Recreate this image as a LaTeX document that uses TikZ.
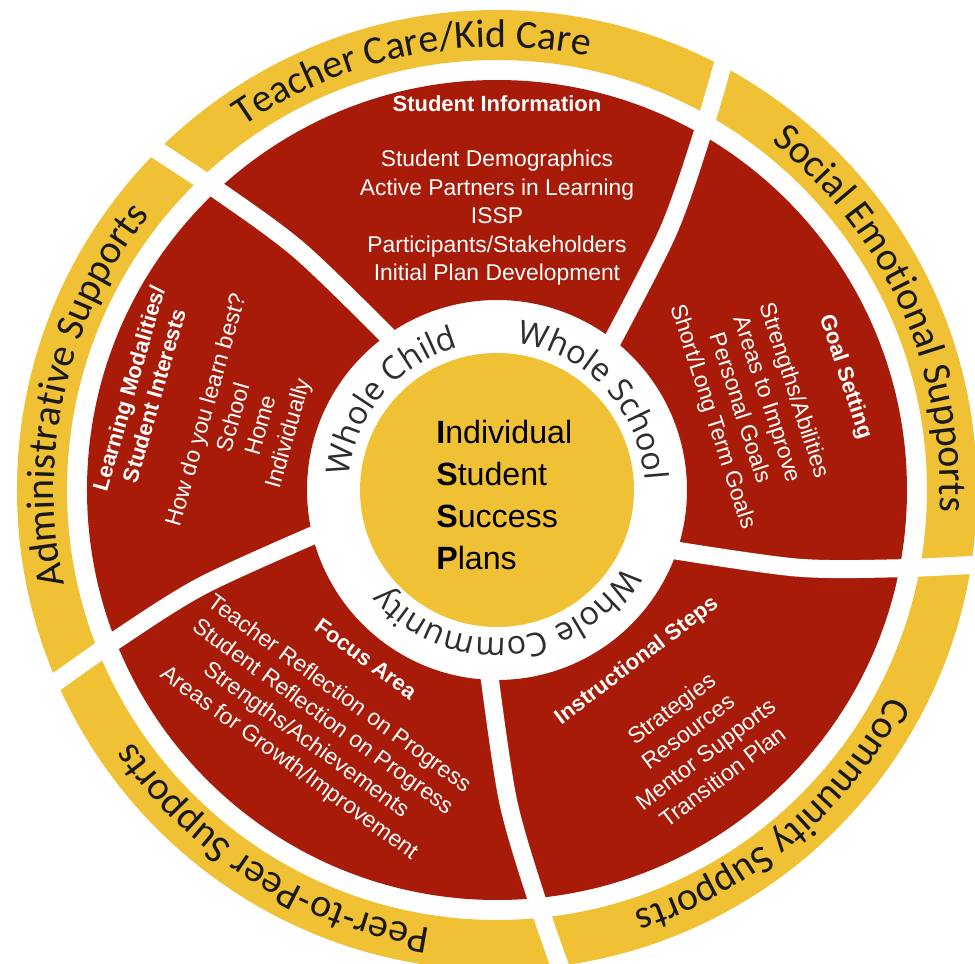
\documentclass[tikz,border=0pt]{standalone}
\usepackage{fontspec}
\setmainfont{Liberation Sans}
\newfontfamily\ringfont{Carlito}
\newfontfamily\wholefont{Open Sans}
\usetikzlibrary{decorations.text}

\definecolor{wheelred}{RGB}{167,27,8}
\definecolor{wheelyellow}{RGB}{240,193,52}
\definecolor{ringink}{RGB}{25,25,25}
\definecolor{wholeink}{RGB}{45,45,45}

\newcommand{\ringtype}{\ringfont\fontsize{22.7}{26}\selectfont}
\newcommand{\wholetype}{\wholefont\fontsize{18.4}{22}\selectfont}

\tikzstyle{divider}=[draw=white, line width=0.36cm]
\tikzstyle{sectortitle}=[text=white, align=center, inner sep=0pt,
                         font=\bfseries\fontsize{12.5}{15}\selectfont]
\tikzstyle{sectorlist}=[text=white, align=center, inner sep=0pt,
                        font=\fontsize{13}{16.2}\selectfont]
\tikzstyle{ringlabel}=[decorate, decoration={text along path,
                       text align=center}]

\begin{document}
\begin{tikzpicture}[x=0.02cm, y=0.02cm]
  \path[use as bounding box, fill=white] (-497,-474) rectangle (478,490);

  % rings
  \fill[wheelyellow, even odd rule] (0,0) circle (480) (0,0) circle (430);
  \fill[wheelred, even odd rule] (0,0) circle (410) (0,0) circle (190);

  % pinwheel cuts through both rings
  \draw[divider] plot[smooth] coordinates {(125:183) (129.5:310) (133:410) (135.5:500)};
  \draw[divider] plot[smooth] coordinates {(52:183) (56.5:310) (60:410) (62.5:500)};
  \draw[divider] plot[smooth] coordinates {(-19:183) (-14.5:310) (-11:410) (-8.5:500)};
  \draw[divider] plot[smooth] coordinates {(-92.5:183) (-88:310) (-84.5:410) (-82:500)};
  \draw[divider] plot[smooth] coordinates {(-166.5:183) (-162:310) (-158.5:410) (-156:500)};

  \fill[wheelyellow] (0,0) circle (137);

  % outer ring labels
  \path[ringlabel, decoration={text color=ringink,
        text={|\ringtype|Teacher Care/Kid Care}}]
    (133.5:443) arc[start angle=133.5, end angle=69.5, radius=443];
  \path[ringlabel, decoration={text color=ringink,
        text={|\ringtype|Social Emotional Supports}}]
    (56.5:443) arc[start angle=56.5, end angle=-7.5, radius=443];
  \path[ringlabel, decoration={text color=ringink,
        text={|\ringtype|Community Supports}}]
    (-17.8:443) arc[start angle=-17.8, end angle=-81.8, radius=443];
  \path[ringlabel, decoration={text color=ringink,
        text={|\ringtype|Peer-to-Peer Supports}}]
    (-90:443) arc[start angle=-90, end angle=-154, radius=443];
  \path[ringlabel, decoration={text color=ringink,
        text={|\ringtype|Administrative Supports}}]
    (199:443) arc[start angle=199, end angle=135, radius=443];

  % inner ring labels
  \path[ringlabel, decoration={text color=wholeink,
        text={|\wholetype|Whole Child}}]
    (200:148) arc[start angle=200, end angle=80, radius=148];
  \path[ringlabel, decoration={text color=wholeink,
        text={|\wholetype|Whole School}}]
    (103:148) arc[start angle=103, end angle=-17, radius=148];
  \path[ringlabel, decoration={text color=wholeink,
        text={|\wholetype|Whole Community}}]
    (-25:148) arc[start angle=-25, end angle=-145, radius=148];

  % sectors
  \node[sectortitle] (info title) at (90:386) {Student Information};
  \node[sectorlist] (info list) at (90:272)
    {Student Demographics\\Active Partners in Learning\\ISSP\\
     Participants/Stakeholders\\Initial Plan Development};

  \node[sectortitle, rotate=-72] (goal title) at (18:366) {Goal Setting};
  \node[sectorlist, rotate=-72] (goal list) at (18.6:270)
    {Strengths/Abilities\\Areas to Improve\\Personal Goals\\Short/Long Term Goals};

  \node[sectortitle, rotate=37] (steps title) at (-50.7:221) {Instructional Steps};
  \node[sectorlist, rotate=37] (steps list) at (-51.6:322)
    {Strategies\\Resources\\Mentor Supports\\Transition Plan};

  \node[sectortitle, rotate=-36] (focus title) at (-127.8:214) {Focus Area};
  \node[sectorlist, rotate=-36] (focus list) at (-127.4:301)
    {Teacher Reflection on Progress\\Student Reflection on Progress\\
     Strengths/Achievements\\Areas for Growth/Improvement};

  \node[sectortitle, rotate=74] (modal title) at (164.6:369)
    {Learning Modalities/\\Student Interests};
  \node[sectorlist, rotate=74] (modal list) at (164.7:258)
    {How do you learn best?\\School\\Home\\Individually};

  % hub
  \node[anchor=west, align=left, inner sep=0pt,
        font=\fontsize{18.3}{24}\selectfont] (issp) at (-61,-5)
    {\textbf{I}ndividual\\\textbf{S}tudent\\\textbf{S}uccess\\\textbf{P}lans};
\end{tikzpicture}
\end{document}
